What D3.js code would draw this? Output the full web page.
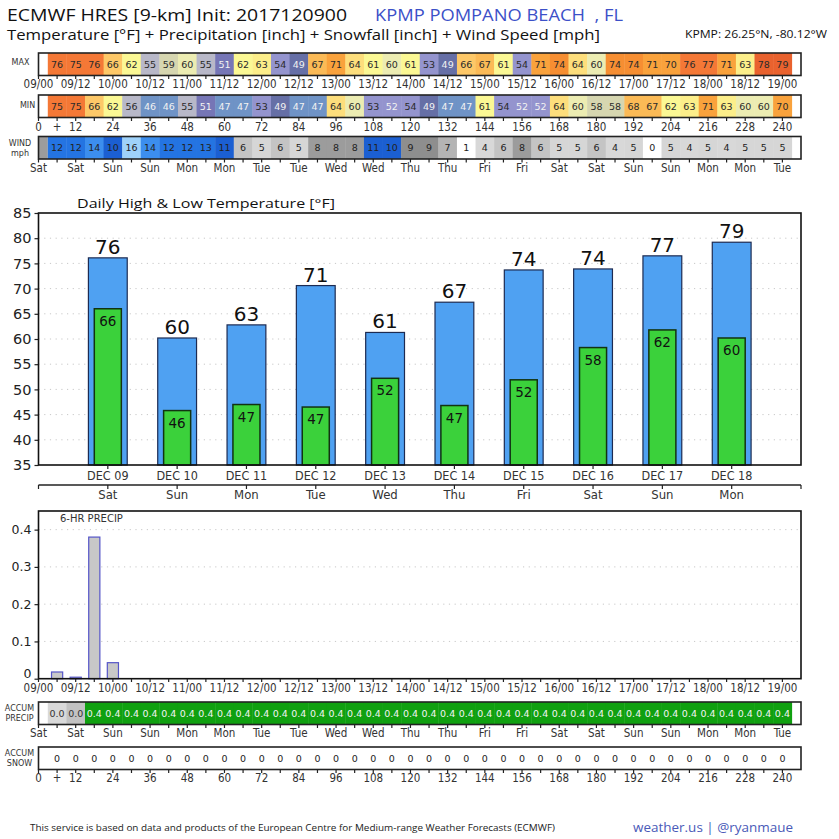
<!DOCTYPE html>
<html>
<head>
<meta charset="utf-8">
<script src="https://cdn.jsdelivr.net/npm/d3@7"></script>
<style>
  body { margin: 0; background: #fff; }
  svg text { font-family: "DejaVu Sans", sans-serif; }
  svg text.cond { font-family: "Liberation Sans Narrow", "DejaVu Sans Condensed", sans-serif; font-stretch: condensed; }
  svg text.head { font-family: "Open Sans", "Noto Sans", sans-serif; white-space: pre; }
</style>
</head>
<body>
<svg id="chart" width="839" height="839"></svg>
<script>
///// *** DATA *** /////
// 6-hourly values, valid at hours 6, 12, ... 240
var maxTemps = [76,75,76,66,62,55,59,60,55,51,62,63,54,49,67,71,64,61,60,61,
                53,49,66,67,61,54,71,74,64,60,74,74,71,70,76,77,71,63,78,79];
var minTemps = [75,75,66,62,56,46,46,55,51,47,47,53,49,47,47,64,60,53,52,54,
                49,47,47,61,54,52,52,64,60,58,58,68,67,62,63,71,63,60,60,70];
var windLead = 8;
var windSpeeds = [12,12,14,10,16,14,12,12,13,11,6,5,6,5,8,8,8,11,10,9,
                  9,7,1,4,6,8,6,5,5,6,4,5,0,5,4,5,4,5,5,5];
var precip6hr = [0.018,0.004,0.38,0.043,0,0,0,0,0,0,0,0,0,0,0,0,0,0,0,0,
                 0,0,0,0,0,0,0,0,0,0,0,0,0,0,0,0,0,0,0,0];
var accumPrecip = [0.018,0.022,0.402,0.445,0.445,0.445,0.445,0.445,0.445,0.445,
                   0.445,0.445,0.445,0.445,0.445,0.445,0.445,0.445,0.445,0.445,
                   0.445,0.445,0.445,0.445,0.445,0.445,0.445,0.445,0.445,0.445,
                   0.445,0.445,0.445,0.445,0.445,0.445,0.445,0.445,0.445,0.445];
var accumSnow = [0,0,0,0,0,0,0,0,0,0,0,0,0,0,0,0,0,0,0,0,
                 0,0,0,0,0,0,0,0,0,0,0,0,0,0,0,0,0,0,0,0];

// daily
var dayNames = ["DEC 09","DEC 10","DEC 11","DEC 12","DEC 13","DEC 14","DEC 15","DEC 16","DEC 17","DEC 18"];
var weekDays = ["Sat","Sun","Mon","Tue","Wed","Thu","Fri","Sat","Sun","Mon"];
var dailyHigh = [76.1,60.2,62.8,70.6,61.3,67.3,73.7,73.9,76.5,79.2];
var dailyLow = [66.0,45.8,47.0,46.5,52.2,46.8,51.9,58.3,61.8,60.2];

// tick labels (every 12 h)
var dateTicks = ["09/00","09/12","10/00","10/12","11/00","11/12","12/00","12/12","13/00","13/12","14/00",
                 "14/12","15/00","15/12","16/00","16/12","17/00","17/12","18/00","18/12","19/00"];
var dayTicks = ["Sat","Sat","Sun","Sun","Mon","Mon","Tue","Tue","Wed","Wed","Thu",
                "Thu","Fri","Fri","Sat","Sat","Sun","Sun","Mon","Mon","Tue"];
// tick labels (every 6 h)
var hourTicks = ["0","+","12","","24","","36","","48","","60","","72","","84","","96","","108","","120",
                 "","132","","144","","156","","168","","180","","192","","204","","216","","228","","240"];
var tempTicks = [35,40,45,50,55,60,65,70,75,80,85];
var precipTicks = [0,0.1,0.2,0.3,0.4];

///// *** SCALES *** /////
var svg = d3.select('#chart'),
    left = 38.5,
    right = 801,
    stripH = 22.5;

var xh = d3.scaleLinear().domain([0, 246]).range([left, right]);

var tempColor = d3.scaleThreshold()
  .domain([48,50,52,55,57,60,61,63,64,65,66.5,68.5,72,75,77.5])
  .range(['#6f93c6','#666fa6','#7676b6','#9494ce','#b8b8c8','#d6d6b0','#ececb2','#fbf894',
          '#fcee8a','#fdde7c','#fdc868','#fbba56','#f9a23c','#f68e32','#f47836','#e9622e']);

var windColor = d3.scaleThreshold()
  .domain([2,4.5,5.5,6.5,7.5,8.5,10,12,13.5,15])
  .range(['#ffffff','#d8d8d8','#d6d6d6','#c4c4c4','#b4b4b4','#9c9c9c','#8e8e8e',
          '#1b5fd2','#2474e2','#3c8eee','#9fd2fa']);

var accumColor = d3.scaleThreshold()
  .domain([0.01,0.02,0.1,0.25])
  .range(['#ffffff','#d9d9d9','#c2c2c2','#8fd08f','#10a010']);

///// *** HEADER *** /////
function headText(x, y, size, color, len, str){
  svg.append('text').attr('class','head').attr('x',x).attr('y',y)
    .attr('font-size',size).attr('fill',color)
    .attr('textLength',len).attr('lengthAdjust','spacingAndGlyphs')
    .text(str);
}
headText(7, 21, 16.5, '#111', 340, 'ECMWF HRES [9-km] Init: 2017120900');
headText(375, 21, 16.5, '#3c50c8', 248, 'KPMP POMPANO BEACH  , FL');
headText(7, 39.5, 14, '#111', 593, 'Temperature [°F] + Precipitation [inch] + Snowfall [inch] + Wind Speed [mph]');
headText(685, 38, 10, '#111', 142, 'KPMP: 26.25°N, -80.12°W');

///// *** HELPER FUNCTIONS *** /////
function rowLabel(cx, lines, top){
  lines.forEach(function(t, i){
    svg.append('text').attr('x', cx).attr('y', top + i*10)
      .attr('text-anchor','middle').attr('font-size',8).attr('fill','#333').text(t);
  });
}

function strip(top, values, fill, label, txtColor, fontSize){
  var g = svg.append('g');
  g.append('rect').attr('x',left).attr('y',top).attr('width',right-left).attr('height',stripH)
    .attr('fill','#fff');
  g.selectAll('rect.cell').data(values).enter().append('rect')
    .attr('class','cell')
    .attr('x', function(d, i){ return xh(6*i + 3); })
    .attr('y', top)
    .attr('width', xh(6) - xh(0) + 0.4)
    .attr('height', stripH)
    .attr('fill', fill);
  g.append('rect').attr('x',left).attr('y',top).attr('width',right-left).attr('height',stripH)
    .attr('fill','none').attr('stroke','#222').attr('stroke-width',1.6);
  g.selectAll('text.val').data(values).enter().append('text')
    .attr('class','val')
    .attr('x', function(d, i){ return xh(6*i + 6); })
    .attr('y', top + stripH/2 + 3.5)
    .attr('text-anchor','middle')
    .attr('font-size', fontSize)
    .attr('fill', txtColor)
    .text(label);
  // 6-hourly ticks below the box
  g.selectAll('line.tk').data(hourTicks).enter().append('line')
    .attr('x1', function(d, i){ return xh(6*i); })
    .attr('x2', function(d, i){ return xh(6*i); })
    .attr('y1', top + stripH)
    .attr('y2', top + stripH + 3.5)
    .attr('stroke','#222').attr('stroke-width',1.2);
  return g;
}

function tickLabels(y, labels, step){
  svg.append('g').selectAll('text').data(labels).enter().append('text')
    .attr('class','cond')
    .attr('x', function(d, i){ return xh(step*i); })
    .attr('y', y)
    .attr('text-anchor','middle')
    .attr('font-size',11.5)
    .attr('fill','#333')
    .text(function(d){ return d; });
}

function tempText(d){ return d <= 52 ? '#f2f2f2' : '#2a2a2a'; }

///// *** TOP STRIPS *** /////
rowLabel(20.5, ['MAX'], 65);
strip(53, maxTemps, tempColor, function(d){ return d; }, tempText, 9.5);
tickLabels(88, dateTicks, 12);

rowLabel(27.5, ['MIN'], 107.5);
strip(95, minTemps, tempColor, function(d){ return d; }, tempText, 9.5);
tickLabels(130.5, hourTicks, 6);

rowLabel(20, ['WIND','mph'], 146);
var w = strip(136.5, windSpeeds, windColor, function(d){ return d; }, '#222', 9.5);
w.insert('rect', 'rect:nth-child(2)')
  .attr('x', xh(0)).attr('y', 136.5).attr('width', xh(3) - xh(0)).attr('height', stripH)
  .attr('fill', windColor(windLead));
tickLabels(172, dayTicks, 12);

///// *** DAILY HIGH / LOW *** /////
var xd = d3.scaleLinear().domain([0, 11]).range([left, right]);
var yt = d3.scaleLinear().domain([35, 85]).range([465, 213]);

svg.append('text').attr('class','head').attr('x',77).attr('y',208)
  .attr('font-size',13.5).attr('fill','#111')
  .attr('textLength',258).attr('lengthAdjust','spacingAndGlyphs')
  .text('Daily High & Low Temperature [°F]');

svg.append('g').selectAll('line').data(tempTicks.slice(1, -1)).enter().append('line')
  .attr('x1', left).attr('x2', right)
  .attr('y1', function(d){ return yt(d); }).attr('y2', function(d){ return yt(d); })
  .attr('stroke','#c8c8c8').attr('stroke-width',1).attr('stroke-dasharray','1.2,4.5');

var hiW = 0.56, loW = 0.39;
svg.append('g').selectAll('rect').data(dailyHigh).enter().append('rect')
  .attr('x', function(d, i){ return xd(i + 1 - hiW/2); })
  .attr('y', function(d){ return yt(d); })
  .attr('width', xd(hiW) - xd(0))
  .attr('height', function(d){ return yt(35) - yt(d); })
  .attr('fill','#4fa1f2').attr('stroke','#1d2b52').attr('stroke-width',1.2);

svg.append('g').selectAll('rect').data(dailyLow).enter().append('rect')
  .attr('x', function(d, i){ return xd(i + 1 - loW/2); })
  .attr('y', function(d){ return yt(d); })
  .attr('width', xd(loW) - xd(0))
  .attr('height', function(d){ return yt(35) - yt(d); })
  .attr('fill','#3bd13b').attr('stroke','#123312').attr('stroke-width',1.5);

svg.append('g').selectAll('text').data(dailyHigh).enter().append('text')
  .attr('x', function(d, i){ return xd(i + 1); })
  .attr('y', function(d){ return yt(d) - 4; })
  .attr('text-anchor','middle').attr('font-size',20).attr('fill','#111')
  .text(function(d){ return Math.round(d); });

svg.append('g').selectAll('text').data(dailyLow).enter().append('text')
  .attr('x', function(d, i){ return xd(i + 1); })
  .attr('y', function(d){ return yt(d) + 17; })
  .attr('text-anchor','middle').attr('font-size',13.5).attr('fill','#111')
  .text(function(d){ return Math.round(d); });

var yAxisT = svg.append('g').attr('transform','translate(' + left + ',0)')
  .call(d3.axisLeft(yt).tickValues(tempTicks).tickSize(4).tickPadding(3));
yAxisT.select('.domain').remove();
yAxisT.selectAll('text').attr('font-size',14.5).attr('fill','#222').attr('font-family','DejaVu Sans');
yAxisT.selectAll('line').attr('stroke','#222').attr('stroke-width',1.2);

svg.append('rect').attr('x',left).attr('y',213).attr('width',right-left).attr('height',465-213)
  .attr('fill','none').attr('stroke','#111').attr('stroke-width',1.6);

// day ticks + labels
svg.append('g').selectAll('line').data(dayNames).enter().append('line')
  .attr('x1', function(d, i){ return xd(i + 1); }).attr('x2', function(d, i){ return xd(i + 1); })
  .attr('y1', 465).attr('y2', 469).attr('stroke','#222').attr('stroke-width',1.2);
svg.append('g').selectAll('text').data(dayNames).enter().append('text')
  .attr('class','cond')
  .attr('x', function(d, i){ return xd(i + 1); }).attr('y', 480)
  .attr('text-anchor','middle').attr('font-size',12.5).attr('fill','#333').text(function(d){ return d; });

svg.append('line').attr('x1',left).attr('x2',right).attr('y1',485).attr('y2',485)
  .attr('stroke','#222').attr('stroke-width',1.4);
svg.append('g').selectAll('line').data([0].concat(weekDays.map(function(d, i){ return i + 1; }), [11]))
  .enter().append('line')
  .attr('x1', function(d){ return xd(d); }).attr('x2', function(d){ return xd(d); })
  .attr('y1', 485).attr('y2', 489).attr('stroke','#222').attr('stroke-width',1.2);
svg.append('g').selectAll('text').data(weekDays).enter().append('text')
  .attr('class','cond')
  .attr('x', function(d, i){ return xd(i + 1); }).attr('y', 499)
  .attr('text-anchor','middle').attr('font-size',13).attr('fill','#333').text(function(d){ return d; });

///// *** 6-HR PRECIP *** /////
var yp = d3.scaleLinear().domain([0, 0.45]).range([678.7, 511]);

svg.append('g').selectAll('line').data(precipTicks.slice(1)).enter().append('line')
  .attr('x1', left).attr('x2', right)
  .attr('y1', function(d){ return yp(d); }).attr('y2', function(d){ return yp(d); })
  .attr('stroke','#c8c8c8').attr('stroke-width',1).attr('stroke-dasharray','1.2,4.5');

svg.append('g').selectAll('rect').data(precip6hr).enter().append('rect')
  .attr('x', function(d, i){ return xh(6*i + 6 - 1.8); })
  .attr('y', function(d){ return yp(d); })
  .attr('width', xh(3.6) - xh(0))
  .attr('height', function(d){ return yp(0) - yp(d); })
  .attr('fill','#c8c8c8').attr('stroke','#5555c8').attr('stroke-width',1.2);

svg.append('text').attr('x',60).attr('y',522).attr('font-size',10).attr('fill','#333').text('6-HR PRECIP');

var yAxisP = svg.append('g').attr('transform','translate(' + left + ',0)')
  .call(d3.axisLeft(yp).tickValues(precipTicks).tickSize(4).tickPadding(3)
    .tickFormat(function(d){ return d === 0 ? '0' : d3.format('.1f')(d); }));
yAxisP.select('.domain').remove();
yAxisP.selectAll('text').attr('font-size',12.5).attr('fill','#222').attr('font-family','DejaVu Sans');
yAxisP.selectAll('.tick').filter(function(d){ return d === 0; }).select('text').attr('dy','-0.12em');
yAxisP.selectAll('line').attr('stroke','#222').attr('stroke-width',1.2);

svg.append('rect').attr('x',left).attr('y',511).attr('width',right-left).attr('height',678.7-511)
  .attr('fill','none').attr('stroke','#111').attr('stroke-width',1.6);

svg.append('g').selectAll('line').data(hourTicks).enter().append('line')
  .attr('x1', function(d, i){ return xh(6*i); }).attr('x2', function(d, i){ return xh(6*i); })
  .attr('y1', 678.7).attr('y2', 682).attr('stroke','#222').attr('stroke-width',1.2);
tickLabels(691.5, dateTicks, 12);

///// *** ACCUM STRIPS *** /////
rowLabel(19.5, ['ACCUM','PRECIP'], 711);
strip(702, accumPrecip, accumColor, function(d){ return d3.format('.1f')(d); },
  function(d){ return d >= 0.1 ? '#f4f4f4' : '#333'; }, 9.5);
tickLabels(737, dayTicks, 12);

rowLabel(19.5, ['ACCUM','SNOW'], 756);
strip(747, accumSnow, function(){ return '#fff'; }, function(d){ return d; }, '#222', 9.5);
tickLabels(782, hourTicks, 6);

///// *** FOOTER *** /////
headText(30, 831, 9.8, '#222', 525,
  'This service is based on data and products of the European Centre for Medium-range Weather Forecasts (ECMWF)');
headText(633, 832, 13.5, '#4a5ab8', 160, 'weather.us | @ryanmaue');
</script>
</body>
</html>
